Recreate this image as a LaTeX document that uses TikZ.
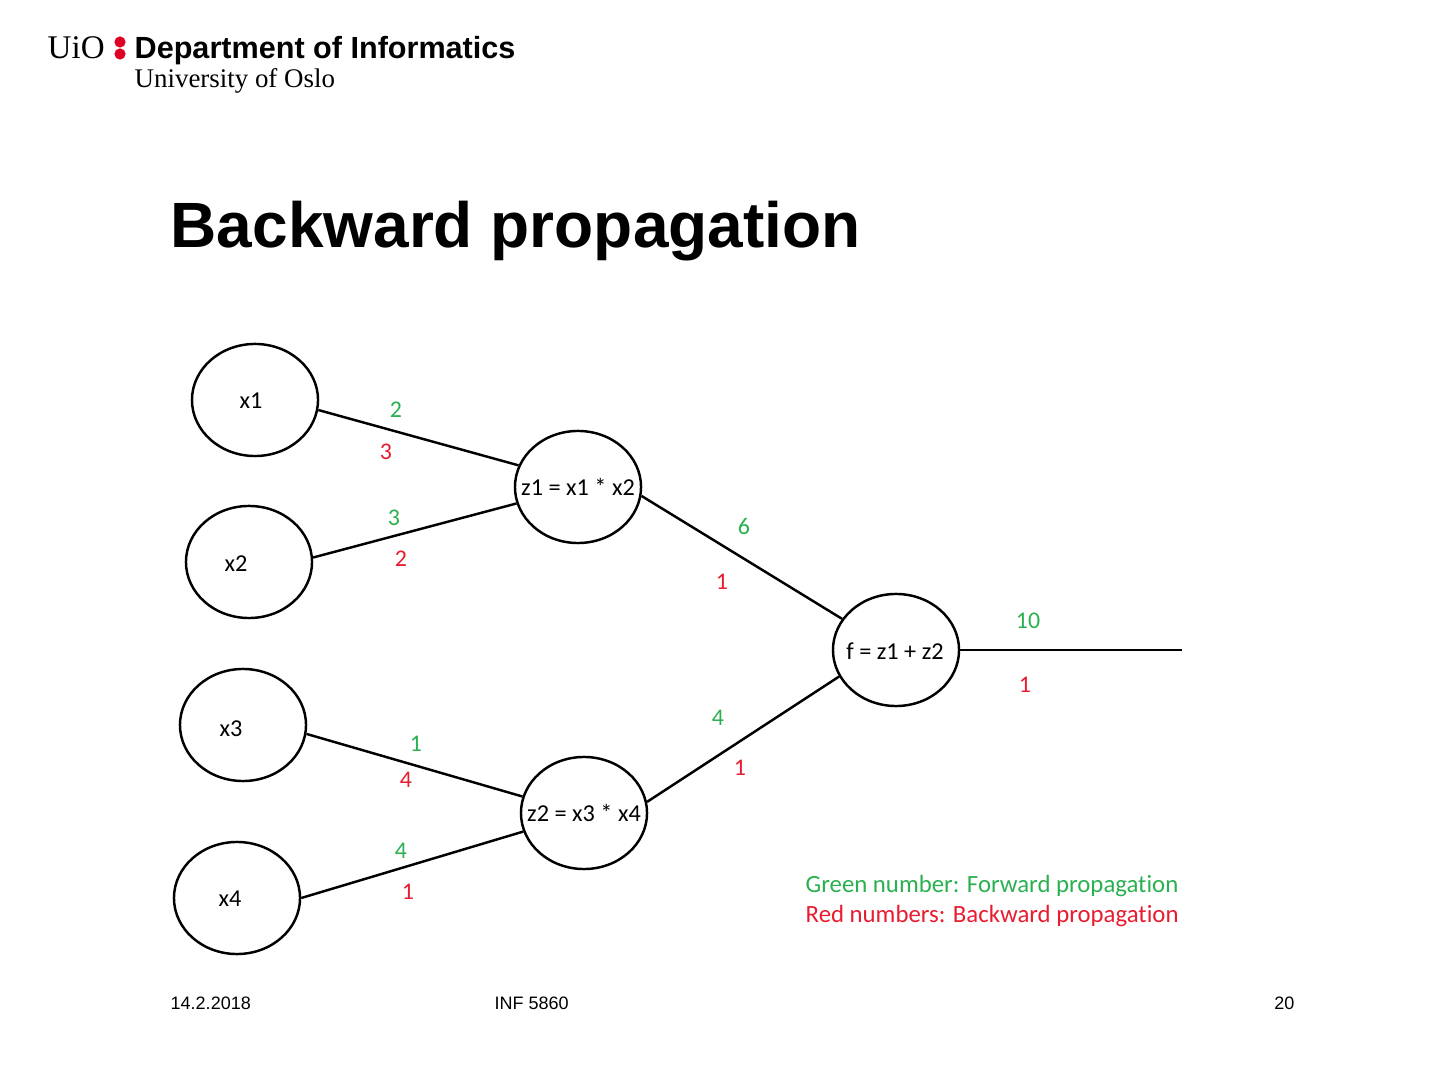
\documentclass[tikz,border=0pt]{standalone}
\usepackage{fontspec}
\setmainfont{Liberation Sans}
\newfontfamily\calfont[Ligatures=NoCommon]{Carlito}
\newfontfamily\logofont{Liberation Serif}
\usetikzlibrary{shapes.geometric}
\definecolor{uiored}{RGB}{221,0,34}
\definecolor{fwdgreen}{RGB}{43,176,80}
\definecolor{bwdred}{RGB}{232,28,48}
\tikzset{
    unit/.style={draw, ellipse, line width=0.7pt, minimum width=1.26cm, minimum height=1.12cm, inner sep=0pt},
    link/.style={line width=0.7pt},
    unittext/.style={font=\fontsize{6.9pt}{8pt}\calfont, inner sep=0pt},
    fwd/.style={font=\fontsize{6.8pt}{8pt}\calfont, text=fwdgreen, inner sep=0pt},
    bwd/.style={font=\fontsize{6.8pt}{8pt}\calfont, text=bwdred, inner sep=0pt},
    legend/.style={font=\fontsize{7.05pt}{8pt}\calfont, inner sep=0pt, anchor=base west},
    foot/.style={font=\fontsize{5.12pt}{6pt}\selectfont, inner sep=0pt}
}
\begin{document}
\begin{tikzpicture}[x=0.01cm, y=-0.01cm]
    \useasboundingbox (0,0) rectangle (1440,1080);
    % Logo
    \node[inner sep=0pt, anchor=base west, font=\fontsize{9.4pt}{10pt}\logofont] (uio) at (47,59) {UiO};
    \fill[uiored] (120,42) circle (5.6) (120,54) circle (5.6);
    \node[inner sep=0pt, anchor=base west, font=\fontsize{8.7pt}{10pt}\bfseries] (dept) at (134,59) {Department of Informatics};
    \node[inner sep=0pt, anchor=base west, font=\fontsize{7.65pt}{8pt}\logofont] (oslo) at (134,88) {University of Oslo};
    % Title
    \node[inner sep=0pt, anchor=base west, font=\fontsize{18.2pt}{20pt}\bfseries] (title) at (170,248) {Backward propagation};
    % Units
    \node[unit] (x1) at (255,400) {};
    \node[unit] (x2) at (249,562) {};
    \node[unit] (x3) at (243,725) {};
    \node[unit] (x4) at (237,898) {};
    \node[unit] (z1) at (578,487) {};
    \node[unit] (z2) at (584,813) {};
    \node[unit] (f) at (896,650) {};
    \coordinate (out) at (1182,650);
    % Unit texts
    \node[unittext] (tx1) at (251,401) {x1};
    \node[unittext] (tx2) at (236,564) {x2};
    \node[unittext] (tx3) at (231,729) {x3};
    \node[unittext] (tx4) at (230,899) {x4};
    \node[unittext] (tz1) at (578,487) {z1 = x1 * x2};
    \node[unittext] (tz2) at (584,813) {z2 = x3 * x4};
    \node[unittext] (tf) at (895,651) {f = z1 + z2};
    % Links
    \draw[link] (x1.-9) -- (z1.160);
    \draw[link] (x2.4) -- (z1.195);
    \draw[link] (x3.-8) -- (z2.165);
    \draw[link] (x4.east) -- (z2.197);
    \draw[link] (z1.-8) -- (f.150);
    \draw[link] (z2.10) -- (f.205);
    \draw[link] (f.east) -- (out);
    % Forward numbers
    \node[fwd] (f1) at (396,410) {2};
    \node[fwd] (f2) at (394,518) {3};
    \node[fwd] (f3) at (416,744) {1};
    \node[fwd] (f4) at (401,851) {4};
    \node[fwd] (f5) at (744,527) {6};
    \node[fwd] (f6) at (718,718) {4};
    \node[fwd] (f7) at (1028,621) {10};
    % Backward numbers
    \node[bwd] (b1) at (386,452) {3};
    \node[bwd] (b2) at (401,559) {2};
    \node[bwd] (b3) at (406,780) {4};
    \node[bwd] (b4) at (408,892) {1};
    \node[bwd] (b5) at (722,582) {1};
    \node[bwd] (b6) at (740,768) {1};
    \node[bwd] (b7) at (1025,685) {1};
    % Legend
    \node[legend, text=fwdgreen] (lgreen) at (805,892) {Green number: Forward propagation};
    \node[legend, text=bwdred] (lred) at (805,922) {Red numbers: Backward propagation};
    % Footer
    \node[foot, anchor=base west] (date) at (170,1009) {14.2.2018};
    \node[foot, anchor=base west] (course) at (494,1009) {INF 5860};
    \node[foot, anchor=base east] (page) at (1295,1009) {20};
\end{tikzpicture}
\end{document}
